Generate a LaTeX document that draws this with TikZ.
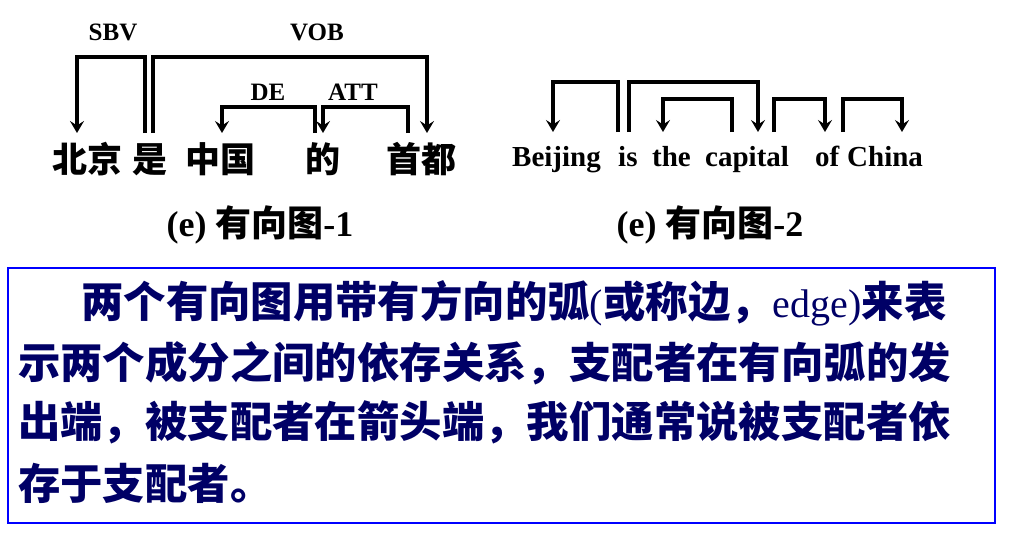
\documentclass[tikz,border=0pt]{standalone}
\usepackage{fontspec}
\setmainfont{Liberation Serif}
\newfontfamily\cjk{Noto Sans CJK SC}
\usetikzlibrary{arrows.meta}
\definecolor{navy}{RGB}{0,0,102}
\definecolor{boxblue}{RGB}{0,0,255}
\tikzset{
  arr/.style={line width=3.3pt, line join=miter, -{Stealth[length=12pt,width=14pt,inset=4.5pt]}},
  cword/.style={inner sep=0pt, anchor=base, font=\cjk\bfseries\fontsize{35}{35}\selectfont},
  eword/.style={inner sep=0pt, anchor=base west, font=\bfseries\fontsize{29}{29}\selectfont},
  rel/.style={inner sep=0pt, font=\bfseries\fontsize{25}{25}\selectfont},
  captext/.style={inner sep=0pt, anchor=base, font=\bfseries\fontsize{36}{36}\selectfont},
  para/.style={inner sep=0pt, anchor=base west, text=navy, font=\cjk\bfseries\fontsize{42.4}{42.4}\selectfont},
}
\begin{document}
\begin{tikzpicture}[x=1pt,y=-1pt]
\useasboundingbox (0,0) rectangle (1021,541);
% left graph words
\node[cword] (bj) at (87.5,172) {北京};
\node[cword] (shi) at (150,172) {是};
\node[cword] (zg) at (220,172) {中国};
\node[cword] (de) at (322.5,172) {的};
\node[cword] (sd) at (421,172) {首都};
% relation labels
\node[rel] (lsbv) at (113,32) {SBV};
\node[rel] (lvob) at (317,32) {VOB};
\node[rel] (lde) at (268,92) {DE};
\node[rel] (latt) at (353,92) {ATT};
% arc end points
\coordinate (sbvF) at (145,133); \coordinate (sbvT) at (77,133);
\coordinate (vobF) at (153,133); \coordinate (vobT) at (427,133);
\coordinate (deF) at (315,133);  \coordinate (deT) at (222,133);
\coordinate (attF) at (408,133); \coordinate (attT) at (323,133);
\draw[arr] (sbvF) -- ++(0,-76) -| (sbvT);
\draw[arr] (vobF) -- ++(0,-76) -| (vobT);
\draw[arr] (deF) -- ++(0,-26) -| (deT);
\draw[arr] (attF) -- ++(0,-26) -| (attT);
% right graph words
\node[eword] (w1) at (512,166) {Beijing};
\node[eword] (w2) at (618,166) {is};
\node[eword] (w3) at (652,166) {the};
\node[eword] (w4) at (705,166) {capital};
\node[eword] (w5) at (815,166) {of};
\node[eword] (w6) at (847,166) {China};
\coordinate (r1F) at (618,132); \coordinate (r1T) at (553,132);
\coordinate (r2F) at (629,132); \coordinate (r2T) at (758,132);
\coordinate (r3F) at (732,132); \coordinate (r3T) at (663,132);
\coordinate (r4F) at (774,132); \coordinate (r4T) at (825,132);
\coordinate (r5F) at (843,132); \coordinate (r5T) at (902,132);
\draw[arr] (r1F) -- ++(0,-50) -| (r1T);
\draw[arr] (r2F) -- ++(0,-50) -| (r2T);
\draw[arr] (r3F) -- ++(0,-33) -| (r3T);
\draw[arr] (r4F) -- ++(0,-33) -| (r4T);
\draw[arr] (r5F) -- ++(0,-33) -| (r5T);
% captions
\node[captext] (cap1) at (260,236) {(e) {\cjk 有向图}-1};
\node[captext] (cap2) at (710,236) {(e) {\cjk 有向图}-2};
% text box
\draw[boxblue, line width=1.5pt] (8,268) rectangle (995,523);
\node[para] (p1) at (81,317) {两个有向图用带有方向的弧{\mdseries\rmfamily\fontsize{40}{40}\selectfont (}或称边，{\mdseries\rmfamily\fontsize{40}{40}\selectfont edge)}来表};
\node[para] (p2) at (18,378) {示两个成分之间的依存关系，支配者在有向弧的发};
\node[para] (p3) at (18,437) {出端，被支配者在箭头端，我们通常说被支配者依};
\node[para] (p4) at (18,499) {存于支配者。};
\end{tikzpicture}
\end{document}
